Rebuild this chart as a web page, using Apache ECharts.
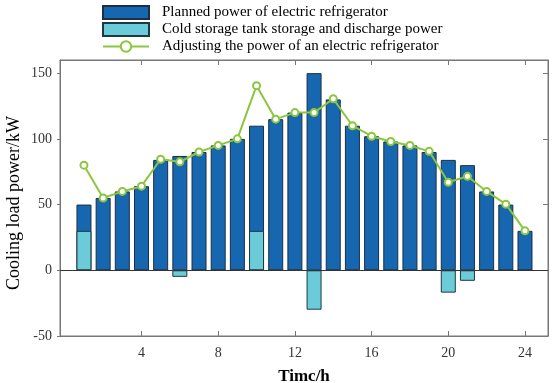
<!DOCTYPE html>
<html>
<head>
<meta charset="utf-8">
<script src="https://cdn.jsdelivr.net/npm/echarts@6/dist/echarts.min.js"></script>
<style>html,body{margin:0;padding:0;background:#fff}#c{width:552px;height:383px}</style>
</head>
<body>
<div id="c"></div>
<script>
var hours = [1,2,3,4,5,6,7,8,9,10,11,12,13,14,15,16,17,18,19,20,21,22,23,24];
var planned = [50,55,60,64,84,87,90,95,100,110,115,120,150,130,110,102,98,95,90,84,80,60,50,30];
var storage = [30,0,0,0,0,-5,0,0,0,30,0,0,-30,0,0,0,0,0,0,-17,-8,0,0,0];
var adjusted = [80,55,60,64,84.5,82.5,90,95,100,140.5,115,120,120,130.5,110,102,98,95,90.5,67,71.5,60,50.3,30];
var xTicks = [4,8,12,16,20,24];
var yTicks = [-50,0,50,100,150];
var yName = 'Cooling load power/kW';

function pairs(v){ return hours.map(function(h,i){ return [h, v[i]]; }); }

var serif = '"Liberation Serif","DejaVu Serif",serif';
var chart = echarts.init(document.getElementById('c'));
chart.setOption({
  animation: false,
  backgroundColor: '#fff',
  grid: {left: 60, right: 4, top: 60, bottom: 47, outerBoundsMode: 'none', containLabel: false,
    show: true, borderColor: '#777', borderWidth: 1, backgroundColor: 'transparent'},
  graphic: [{
    type: 'text', x: 14, y: 203, rotation: Math.PI / 2,
    style: {text: yName, font: '18px ' + serif, fill: '#000', align: 'center', verticalAlign: 'middle'}
  }],
  legend: {
    orient: 'vertical', left: 97, top: 0, itemGap: 2, itemWidth: 46, itemHeight: 13,
    textStyle: {fontFamily: serif, fontSize: 15, color: '#000', lineHeight: 14, padding: [0, 0, 0, 8]},
    data: [
      {name: 'Planned power of electric refrigerator', icon: 'rect'},
      {name: 'Cold storage tank storage and discharge power', icon: 'rect'},
      {name: 'Adjusting the power of an electric refrigerator'}
    ]
  },
  xAxis: [{
    type: 'value', min: -0.25, max: 25.2, position: 'bottom',
    name: 'Timc/h', nameLocation: 'middle', nameGap: 32,
    nameTextStyle: {fontFamily: serif, fontSize: 17, fontWeight: 'bold', color: '#000'},
    axisLine: {show: true, onZero: false, lineStyle: {color: '#777'}},
    axisTick: {show: true, inside: true, length: 5, customValues: xTicks, lineStyle: {color: '#777'}},
    axisLabel: {customValues: xTicks, fontFamily: serif, fontSize: 14, color: '#333', margin: 10},
    splitLine: {show: false}
  },{
    type: 'value', min: -0.25, max: 25.2, position: 'top',
    axisLine: {show: true, onZero: false, lineStyle: {color: '#777'}},
    axisTick: {show: true, inside: true, length: 5, customValues: xTicks, lineStyle: {color: '#777'}},
    axisLabel: {show: false}, splitLine: {show: false}
  }],
  yAxis: [{
    type: 'value', min: -50, max: 160, interval: 50,
    axisLine: {show: true, onZero: false, lineStyle: {color: '#777'}},
    axisTick: {show: true, inside: false, length: 3, customValues: yTicks, lineStyle: {color: '#777'}},
    axisLabel: {customValues: yTicks, fontFamily: serif, fontSize: 14, color: '#333', margin: 8},
    splitLine: {show: false}
  },{
    type: 'value', min: -50, max: 160, interval: 50, position: 'right',
    axisLine: {show: true, onZero: false, lineStyle: {color: '#777'}},
    axisTick: {show: true, inside: true, length: 5, customValues: yTicks, lineStyle: {color: '#777'}},
    axisLabel: {show: false}, splitLine: {show: false}
  }],
  series: [{
    name: 'Planned power of electric refrigerator', type: 'bar', barWidth: 15, barGap: '-100%',
    data: pairs(planned),
    itemStyle: {color: '#1767b0', borderColor: '#1b2f45', borderWidth: 1},
    markLine: {silent: true, symbol: 'none', label: {show: false},
      lineStyle: {color: '#333', width: 1, type: 'solid'}, data: [{yAxis: 0}]}
  },{
    name: 'Cold storage tank storage and discharge power', type: 'bar', barWidth: 15, barGap: '-100%',
    data: pairs(storage),
    itemStyle: {color: '#6ccbd8', borderColor: '#1b3a45', borderWidth: 1}
  },{
    name: 'Adjusting the power of an electric refrigerator', type: 'line',
    data: pairs(adjusted), symbol: 'emptyCircle', symbolSize: 7,
    lineStyle: {color: '#8cc63f', width: 2},
    itemStyle: {color: '#8cc63f', borderWidth: 1.5}, z: 5
  }]
});
</script>
</body>
</html>
